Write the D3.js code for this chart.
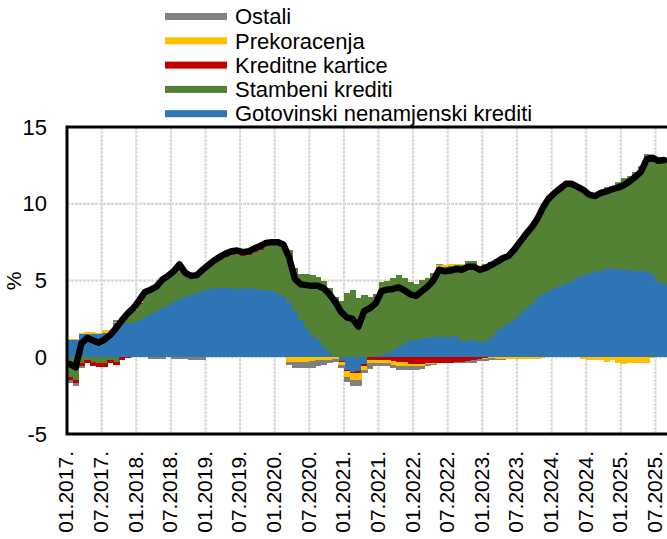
<!DOCTYPE html>
<html><head><meta charset="utf-8">
<script src="https://cdn.jsdelivr.net/npm/d3@7"></script>
<style>body{margin:0;background:#fff}svg{display:block;font-family:"Liberation Sans",Arial,sans-serif}</style>
</head><body><svg id="c" width="667" height="539"></svg>
<script>
const months = [
"01.2017","02.2017","03.2017","04.2017","05.2017","06.2017","07.2017","08.2017","09.2017","10.2017","11.2017","12.2017",
"01.2018","02.2018","03.2018","04.2018","05.2018","06.2018","07.2018","08.2018","09.2018","10.2018","11.2018","12.2018",
"01.2019","02.2019","03.2019","04.2019","05.2019","06.2019","07.2019","08.2019","09.2019","10.2019","11.2019","12.2019",
"01.2020","02.2020","03.2020","04.2020","05.2020","06.2020","07.2020","08.2020","09.2020","10.2020","11.2020","12.2020",
"01.2021","02.2021","03.2021","04.2021","05.2021","06.2021","07.2021","08.2021","09.2021","10.2021","11.2021","12.2021",
"01.2022","02.2022","03.2022","04.2022","05.2022","06.2022","07.2022","08.2022","09.2022","10.2022","11.2022","12.2022",
"01.2023","02.2023","03.2023","04.2023","05.2023","06.2023","07.2023","08.2023","09.2023","10.2023","11.2023","12.2023",
"01.2024","02.2024","03.2024","04.2024","05.2024","06.2024","07.2024","08.2024","09.2024","10.2024","11.2024","12.2024",
"01.2025","02.2025","03.2025","04.2025","05.2025","06.2025","07.2025","08.2025"];

const tickLabels = ["01.2017.","07.2017.","01.2018.","07.2018.","01.2019.","07.2019.","01.2020.","07.2020.","01.2021.","07.2021.","01.2022.","07.2022.","01.2023.","07.2023.","01.2024.","07.2024.","01.2025.","07.2025."];
const tickMonths = ["01.2017","07.2017","01.2018","07.2018","01.2019","07.2019","01.2020","07.2020","01.2021","07.2021","01.2022","07.2022","01.2023","07.2023","01.2024","07.2024","01.2025","07.2025"];
const yTicks = [-5, 0, 5, 10, 15];

const gotovinski = [1.1,1.1,1.5,1.5,1.5,1.5,1.6,1.6,2.2,2.2,
2.2,2.25,2.4,2.6,2.8,3.0,3.2,3.4,3.6,3.8,
3.95,4.1,4.2,4.3,4.45,4.5,4.5,4.5,4.5,4.45,
4.5,4.45,4.5,4.4,4.35,4.3,4.2,4.0,3.6,3.0,
2.4,1.9,1.45,1.1,0.7,0.3,0.05,-0.25,-0.8,-0.95,
-0.9,-0.45,0,0.05,0.15,0.3,0.5,0.65,0.9,1.1,
1.15,1.25,1.25,1.3,1.3,1.35,1.35,1.4,1.05,1.15,
1.15,1.0,1.05,1.35,1.75,2.0,2.2,2.5,2.8,3.15,
3.5,3.9,4.1,4.3,4.5,4.65,4.85,5.0,5.2,5.35,
5.5,5.6,5.65,5.75,5.75,5.75,5.7,5.7,5.65,5.65,
5.6,5.4,5.0,4.8];

const stambeni = [-1.3,-1.45,-0.4,-0.2,-0.3,-0.35,-0.35,-0.2,-0.3,0.2,
0.6,0.85,1.1,1.45,1.5,1.5,1.8,1.75,1.95,2.05,
1.55,1.2,1.25,1.5,1.5,1.7,1.85,2.05,2.15,2.25,
2.1,2.2,2.35,2.6,2.9,3.05,3.2,3.25,3.4,2.8,
3.05,3.5,3.9,4.1,4.3,4.2,3.85,3.65,4.2,4.35,
3.85,4.05,3.95,4.05,4.75,4.7,4.65,4.7,4.25,3.8,
3.65,3.8,3.9,4.2,4.6,4.55,4.6,4.6,4.95,5.1,
5.1,4.95,5.0,4.8,4.55,4.5,4.35,4.45,4.7,4.85,
4.95,5.1,5.6,5.9,6.05,6.2,6.35,6.15,5.8,5.6,
5.2,5.05,5.2,5.3,5.35,5.6,5.9,6.05,6.4,6.75,
7.6,7.5,7.7,7.95];

const kartice = [-0.2,-0.25,-0.2,-0.2,-0.25,-0.3,-0.3,-0.15,-0.2,-0.15,
-0.05,0,0.05,0.05,0.05,0.05,0.05,0.05,0.05,0.05,
0.05,0.05,0,0,0,0.05,0.15,0.15,0.2,0.15,
0.2,0.2,0.2,0.2,0.15,0.1,0.1,0.1,0,0,
0,0,0,0,0,0,0,-0.05,-0.1,-0.1,
-0.1,-0.1,-0.2,-0.2,-0.15,-0.15,-0.25,-0.3,-0.3,-0.45,
-0.45,-0.45,-0.4,-0.35,-0.35,-0.35,-0.35,-0.3,-0.3,-0.25,
-0.2,-0.1,-0.05,0.05,0.1,0.1,0.15,0.1,0.05,0.05,
0.05,0.05,0.05,0.05,0.05,0.05,0.05,0.05,0,0,
0,0,0,0,0,0,0,0,0,0,
0,0,0,0];

const prekoracenja = [0.1,0.1,0.1,0.15,0.15,0.1,0.15,0.15,0.1,0.1,
0.1,0.1,0.15,0.15,0.15,0.15,0.1,0.1,0.1,0.25,
0.05,0.1,0.05,0.05,0.05,0.05,0.05,0.05,0.05,0.1,
0.05,0.05,0.05,0.05,0.05,0.05,0,0,-0.3,-0.3,
-0.3,-0.3,-0.25,-0.2,-0.2,-0.15,-0.1,-0.2,-0.4,-0.45,
-0.5,-0.25,-0.2,-0.15,-0.25,-0.25,-0.25,-0.25,-0.25,-0.15,
-0.15,-0.1,-0.05,-0.1,0.1,0.1,0.1,0.1,0.05,0,
0,0,-0.05,-0.05,-0.1,-0.1,-0.1,-0.1,-0.1,-0.1,
-0.1,-0.1,-0.05,0.05,0.05,0.05,0.05,0.05,0,-0.1,
-0.15,-0.2,-0.2,-0.3,-0.2,-0.35,-0.45,-0.35,-0.35,-0.35,
-0.35,-0.05,0,0];

const ostali = [-0.15,-0.15,-0.1,0,0,0,0.05,0.05,0.1,0.05,
0,0,0,0,-0.1,-0.1,-0.1,0,-0.1,-0.1,
-0.1,-0.15,-0.15,-0.15,0,0,0,0,0,0,
0,0,0,0,0,0,0,0,-0.2,-0.4,
-0.4,-0.4,-0.45,-0.35,-0.3,-0.25,-0.2,-0.2,-0.3,-0.35,
-0.35,-0.25,-0.35,-0.25,-0.2,-0.2,-0.2,-0.25,-0.25,-0.2,
-0.2,-0.2,-0.1,-0.05,0.05,-0.05,-0.05,-0.05,-0.05,-0.1,
-0.15,-0.15,-0.15,-0.15,-0.1,-0.05,0,0.05,0.05,0.05,
0.05,0.05,0.05,0.05,0.05,0.05,0,0.05,0.1,0.05,
0.05,0.05,0.05,0.05,0.05,0.05,0.05,0.05,0.05,0.05,
0.05,0.15,0.1,0.1];

const ukupno = [-0.45,-0.65,0.9,1.25,1.1,0.95,1.15,1.45,1.9,2.4,
2.85,3.2,3.7,4.25,4.4,4.6,5.05,5.3,5.6,6.05,
5.5,5.3,5.35,5.7,6.0,6.3,6.55,6.75,6.9,6.95,
6.85,6.9,7.1,7.25,7.45,7.5,7.5,7.35,6.5,5.1,
4.75,4.7,4.65,4.65,4.5,4.1,3.6,2.95,2.6,2.5,
2.0,3.0,3.2,3.5,4.3,4.4,4.45,4.55,4.35,4.1,
4.0,4.3,4.6,5.0,5.7,5.6,5.65,5.75,5.7,5.9,
5.9,5.7,5.8,6.0,6.2,6.45,6.6,7.0,7.5,8.0,
8.45,9.0,9.75,10.35,10.7,11.0,11.3,11.3,11.1,10.9,
10.6,10.5,10.7,10.8,10.95,11.05,11.2,11.45,11.75,12.1,
12.9,13.0,12.8,12.85];

const seriesNames = ["Gotovinski nenamjenski krediti","Stambeni krediti","Kreditne kartice","Prekoracenja","Ostali"];
const seriesValues = [gotovinski, stambeni, kartice, prekoracenja, ostali];
const seriesColors = ["#2e75b6","#548235","#c00000","#ffc000","#808080"];

const svg = d3.select("#c");
const L = 67, R = 667, T = 127, B = 434;
const x = d3.scaleBand().domain(months).range([L, R]).padding(0);
const y = d3.scaleLinear().domain([-5, 15]).range([B, T]);

const table = months.map((m, i) => {
  const o = {month: m};
  seriesNames.forEach((n, k) => o[n] = seriesValues[k][i]);
  return o;
});
const stacked = d3.stack().keys(seriesNames).offset(d3.stackOffsetDiverging)(table);

// gridlines
const grid = svg.append("g");
grid.selectAll("line.h").data([0, 5, 10]).join("line")
  .attr("x1", L).attr("x2", R + 5).attr("y1", d => y(d)).attr("y2", d => y(d))
  .attr("stroke", "#d4d4d4").attr("stroke-width", 2).attr("stroke-dasharray", "3,1");
grid.selectAll("line.v").data(tickMonths.slice(1)).join("line")
  .attr("x1", d => x(d)).attr("x2", d => x(d)).attr("y1", T).attr("y2", B)
  .attr("stroke", "#d4d4d4").attr("stroke-width", 2).attr("stroke-dasharray", "3,1");

// bars
const bars = svg.append("g").attr("shape-rendering", "crispEdges");
stacked.forEach((s, k) => {
  bars.append("g").attr("fill", seriesColors[k])
    .selectAll("rect").data(s.filter(d => d[1] - d[0] !== 0)).join("rect")
    .attr("x", d => x(d.data.month))
    .attr("width", x.bandwidth() + 0.6)
    .attr("y", d => y(Math.max(d[0], d[1])))
    .attr("height", d => Math.abs(y(d[0]) - y(d[1])));
});

// total line
const line = d3.line().x((d, i) => x(months[i]) + x.bandwidth() / 2).y(d => y(d));
svg.append("path").datum(ukupno).attr("d", line)
  .attr("fill", "none").attr("stroke", "#000").attr("stroke-width", 6.5)
  .attr("stroke-linejoin", "round").attr("stroke-linecap", "round");

// frame
svg.append("path")
  .attr("d", `M${R + 10},${T}H${L}V${B}H${R + 10}`)
  .attr("fill", "none").attr("stroke", "#000").attr("stroke-width", 3);

// y labels
svg.append("g").selectAll("text").data(yTicks).join("text")
  .attr("x", 47).attr("y", d => y(d)).attr("dy", "0.35em")
  .attr("text-anchor", "end").attr("font-size", 22).attr("fill", "#000")
  .text(d => d);
svg.append("text").attr("transform", "translate(21,281) rotate(-90)")
  .attr("text-anchor", "middle").attr("font-size", 21).text("%");

// x labels
svg.append("g").selectAll("text").data(tickMonths).join("text")
  .attr("transform", d => `translate(${x(d) - 1},451) rotate(-90)`)
  .attr("dy", "0.35em").attr("text-anchor", "end").attr("font-size", 21)
  .text((d, i) => tickLabels[i]);

// legend
const legOrder = [4, 3, 2, 1, 0];
const leg = svg.append("g");
legOrder.forEach((k, j) => {
  const cy = 16.5 + j * 24.3;
  leg.append("rect").attr("x", 165).attr("y", cy - 3.5).attr("width", 62).attr("height", 7)
    .attr("fill", seriesColors[k]);
  leg.append("text").attr("x", 235).attr("y", cy).attr("dy", "0.35em")
    .attr("font-size", 22).text(seriesNames[k]);
});
</script></body></html>
